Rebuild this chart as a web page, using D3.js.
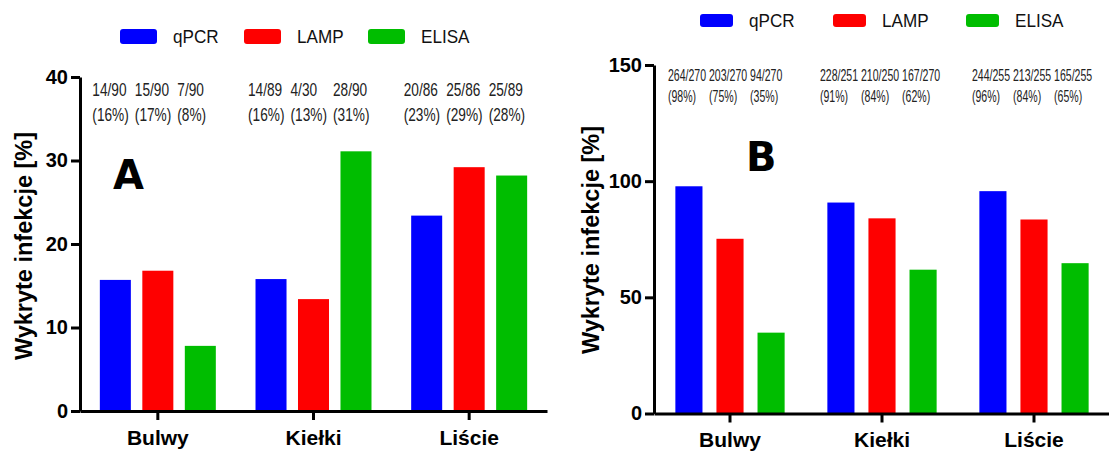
<!DOCTYPE html>
<html>
<head>
<meta charset="utf-8">
<script src="https://cdn.jsdelivr.net/npm/d3@7"></script>
<style>
  body { margin: 0; background: #fff; }
  svg { display: block; }
</style>
</head>
<body>
<div id="chart"></div>
<script>
var width = 1109;
var height = 452;

var categories = ["Bulwy", "Kiełki", "Liście"];
var methods = ["qPCR", "LAMP", "ELISA"];
var colors = ["#0000fe", "#fe0000", "#00bd00"];

// panel A - values in %, one array per method (Bulwy, Kiełki, Liście)
var qpcrA = [15.7, 15.8, 23.4];
var lampA = [16.8, 13.4, 29.2];
var elisaA = [7.8, 31.1, 28.2];
var ticksA = [0, 10, 20, 30, 40];
var countsA = ["14/90", "15/90", "7/90", "14/89", "4/30", "28/90", "20/86", "25/86", "25/89"];
var pctsA = ["(16%)", "(17%)", "(8%)", "(16%)", "(13%)", "(31%)", "(23%)", "(29%)", "(28%)"];

// panel B
var qpcrB = [97.8, 90.8, 95.7];
var lampB = [75.2, 84.0, 83.5];
var elisaB = [34.8, 61.9, 64.7];
var ticksB = [0, 50, 100, 150];
var countsB = ["264/270", "203/270", "94/270", "228/251", "210/250", "167/270", "244/255", "213/255", "165/255"];
var pctsB = ["(98%)", "(75%)", "(35%)", "(91%)", "(84%)", "(62%)", "(96%)", "(84%)", "(65%)"];

var yTitle = "Wykryte infekcje [%]";
var font = "'Liberation Sans', Arial, sans-serif";

var svg = d3.select("#chart").append("svg")
  .attr("width", width)
  .attr("height", height)
  .style("background", "#fff");

drawPanel({
  letter: "A", letterX: 113, letterY: 189,
  series: [qpcrA, lampA, elisaA], counts: countsA, pcts: pctsA,
  max: 40, ticks: ticksA,
  xRange: [80, 547], yRange: [411, 77], inner: 0.27, outer: 0.467,
  yLabelX: 32, yLabelY: 246,
  annOffset: -23, annY1: 96, annY2: 121, annSize: 18, annSx: 0.76,
  legX: 120, legY: 29, legW: 37, legH: 15, legStep: 124, legTextY: 43
});

drawPanel({
  letter: "B", letterX: 746, letterY: 171,
  series: [qpcrB, lampB, elisaB], counts: countsB, pcts: pctsB,
  max: 150, ticks: ticksB,
  xRange: [654, 1110], yRange: [413.5, 65], inner: 0.34, outer: 0.52,
  yLabelX: 599, yLabelY: 240,
  annOffset: -21, annY1: 81, annY2: 102, annSize: 16, annSx: 0.66,
  legX: 700, legY: 14, legW: 33, legH: 13, legStep: 133, legTextY: 27
});

function drawPanel(p) {
  var g = svg.append("g");

  var x0 = d3.scaleBand().domain(categories).range(p.xRange);
  var x1 = d3.scaleBand().domain(methods)
    .range([0, x0.bandwidth()])
    .paddingInner(p.inner)
    .paddingOuter(p.outer);
  var y = d3.scaleLinear().domain([0, p.max]).range(p.yRange);

  var rows = [];
  categories.forEach(function (c, i) {
    methods.forEach(function (m, j) {
      rows.push({ cat: c, method: m, j: j, value: p.series[j][i],
        count: p.counts[i * 3 + j], pct: p.pcts[i * 3 + j] });
    });
  });

  // bars
  g.append("g").selectAll("rect")
    .data(rows)
    .enter().append("rect")
    .attr("x", function (d) { return x0(d.cat) + x1(d.method); })
    .attr("y", function (d) { return y(d.value); })
    .attr("width", x1.bandwidth())
    .attr("height", function (d) { return y(0) - y(d.value); })
    .attr("fill", function (d) { return colors[d.j]; });

  // y axis
  var yAxis = g.append("g")
    .attr("transform", "translate(" + p.xRange[0] + ",0)")
    .call(d3.axisLeft(y).tickValues(p.ticks).tickSize(9).tickSizeOuter(0).tickPadding(3));
  yAxis.selectAll("text")
    .attr("font-family", font).attr("font-size", 20).attr("font-weight", "bold").attr("fill", "#000");

  // x axis
  var xAxis = g.append("g")
    .attr("transform", "translate(0," + y(0) + ")")
    .call(d3.axisBottom(x0).tickSize(9).tickSizeOuter(0).tickPadding(10));
  xAxis.selectAll("text")
    .attr("font-family", font).attr("font-size", 21).attr("font-weight", "bold").attr("fill", "#000");

  g.selectAll(".domain, .tick line")
    .attr("stroke", "#000")
    .attr("stroke-width", 3);

  // axis title
  g.append("text")
    .attr("transform", "translate(" + p.yLabelX + "," + p.yLabelY + ") rotate(-90)")
    .attr("text-anchor", "middle")
    .attr("font-family", font).attr("font-size", 23.5).attr("font-weight", "bold")
    .text(yTitle);

  // counts above each bar
  var ann = g.append("g").selectAll("g")
    .data(rows)
    .enter().append("g");
  ann.append("text")
    .attr("transform", function (d) {
      return "translate(" + (x0(d.cat) + x1(d.method) + x1.bandwidth() / 2 + p.annOffset) + "," + p.annY1 + ") scale(" + p.annSx + ",1)";
    })
    .attr("font-family", font).attr("font-size", p.annSize).attr("fill", "#222")
    .text(function (d) { return d.count; });
  ann.append("text")
    .attr("transform", function (d) {
      return "translate(" + (x0(d.cat) + x1(d.method) + x1.bandwidth() / 2 + p.annOffset) + "," + p.annY2 + ") scale(" + p.annSx + ",1)";
    })
    .attr("font-family", font).attr("font-size", p.annSize).attr("fill", "#222")
    .text(function (d) { return d.pct; });

  // panel letter
  g.append("text")
    .attr("x", p.letterX).attr("y", p.letterY)
    .attr("font-family", "'DejaVu Sans', sans-serif").attr("font-size", 40).attr("font-weight", "bold")
    .text(p.letter);

  // legend
  var leg = g.append("g").selectAll("g")
    .data(methods)
    .enter().append("g")
    .attr("transform", function (d, j) { return "translate(" + (p.legX + j * p.legStep) + ",0)"; });
  leg.append("rect")
    .attr("y", p.legY).attr("width", p.legW).attr("height", p.legH)
    .attr("rx", 3)
    .attr("fill", function (d, j) { return colors[j]; });
  leg.append("text")
    .attr("transform", "translate(" + (p.legW + 16) + "," + p.legTextY + ") scale(0.9,1)")
    .attr("font-family", font).attr("font-size", 19).attr("fill", "#111")
    .text(function (d) { return d; });
}
</script>
</body>
</html>
